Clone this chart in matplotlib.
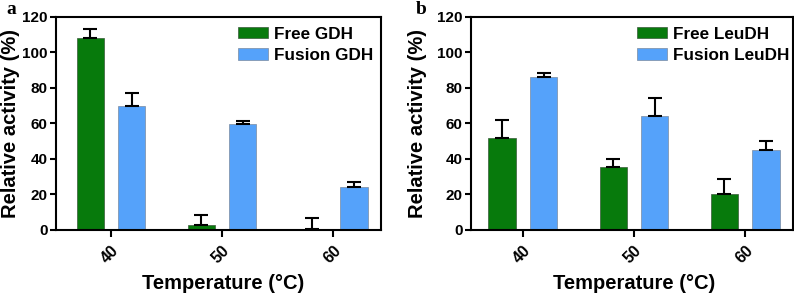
import numpy as np
import matplotlib.pyplot as plt

plt.rcParams['font.family'] = ['Liberation Sans', 'DejaVu Sans']
plt.rcParams['font.weight'] = 'bold'

temps = ['40', '50', '60']

free_gdh = [108, 3, 0.5]
free_gdh_err = [5, 5.5, 6]
fusion_gdh = [70, 59.5, 24]
fusion_gdh_err = [7, 2, 3]

free_leu = [52, 35.5, 20]
free_leu_err = [10, 4.5, 8.5]
fusion_leu = [86, 64, 45]
fusion_leu_err = [2.5, 10.5, 5]

green = '#077a0c'
blue = '#55a2fa'

fig = plt.figure(figsize=(7.94, 2.99), dpi=100)
ax1 = fig.add_axes([0.0705, 0.2308, 0.4093, 0.7124])
ax2 = fig.add_axes([0.5932, 0.2308, 0.4055, 0.7124])

# ax, free, free err, fusion, fusion err, labels, letter, xlim, ylabel x, xlabel x, legend x, letter x
panels = [
    (ax1, free_gdh, free_gdh_err, fusion_gdh, fusion_gdh_err, 'Free GDH', 'Fusion GDH', 'a',
     (-0.495, 2.43), -0.111, 0.515, 0.56, -0.152),
    (ax2, free_leu, free_leu_err, fusion_leu, fusion_leu_err, 'Free LeuDH', 'Fusion LeuDH', 'b',
     (-0.465, 2.43), -0.137, 0.506, 0.516, -0.17),
]

x = np.arange(len(temps))
w = 0.245
off = 0.187
ekw = dict(ecolor='black', elinewidth=1.5, capsize=5, capthick=1.5)
for ax, f, fe, u, ue, lf, lu, letter, xl, ylx, xlx, lgx, ltx in panels:
    ax.bar(x - off, f, w, color=green, edgecolor='#3a5a3a', linewidth=0.5, label=lf,
           yerr=[np.zeros(3), fe], error_kw=ekw)
    ax.bar(x + off, u, w, color=blue, edgecolor='#7a8aa0', linewidth=0.5, label=lu,
           yerr=[np.zeros(3), ue], error_kw=ekw)
    ax.set_xlim(*xl)
    ax.set_ylim(0, 120)
    ax.set_yticks(range(0, 121, 20))
    ax.set_xticks(x)
    ax.set_xticklabels(temps, rotation=45, ha='right', rotation_mode='anchor', fontsize=11.5)
    ax.tick_params(axis='y', labelsize=11, width=1.5, length=4, pad=2)
    ax.tick_params(axis='x', width=1.5, length=5, pad=4)
    for s in ax.spines.values():
        s.set_linewidth(1.5)
    ax.set_ylabel('Relative activity (%)', fontsize=14.5, fontweight='bold')
    ax.yaxis.set_label_coords(ylx, 0.5)
    ax.set_xlabel('Temperature (°C)', fontsize=14.5, fontweight='bold')
    ax.xaxis.set_label_coords(xlx, -0.25)
    ax.xaxis.label.set_va('center')
    ax.legend(loc='upper left', bbox_to_anchor=(lgx, 0.955), frameon=False, fontsize=12.3,
              handlelength=1.76, handleheight=0.65, borderpad=0, borderaxespad=0,
              labelspacing=0.37, handletextpad=0.35)
    ax.text(ltx, 1.075, letter, transform=ax.transAxes, fontsize=14,
            fontweight='bold', family='Liberation Serif', va='top', ha='left')

fig.savefig('out.png', dpi=100)
